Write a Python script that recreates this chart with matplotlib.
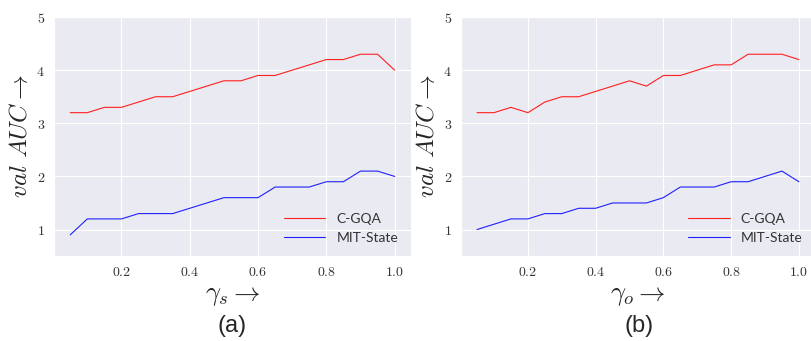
import matplotlib
matplotlib.use("Agg")
import matplotlib.pyplot as plt
import seaborn as sns

sns.set_style("darkgrid")
plt.rcParams["mathtext.fontset"] = "cm"

gamma = [0.05, 0.10, 0.15, 0.20, 0.25, 0.30, 0.35, 0.40, 0.45, 0.50,
         0.55, 0.60, 0.65, 0.70, 0.75, 0.80, 0.85, 0.90, 0.95, 1.00]

# panel (a): sweep over gamma_s
cgqa_s = [3.2, 3.2, 3.3, 3.3, 3.4, 3.5, 3.5, 3.6, 3.7, 3.8,
          3.8, 3.9, 3.9, 4.0, 4.1, 4.2, 4.2, 4.3, 4.3, 4.0]
mit_s = [0.9, 1.2, 1.2, 1.2, 1.3, 1.3, 1.3, 1.4, 1.5, 1.6,
         1.6, 1.6, 1.8, 1.8, 1.8, 1.9, 1.9, 2.1, 2.1, 2.0]

# panel (b): sweep over gamma_o
cgqa_o = [3.2, 3.2, 3.3, 3.2, 3.4, 3.5, 3.5, 3.6, 3.7, 3.8,
          3.7, 3.9, 3.9, 4.0, 4.1, 4.1, 4.3, 4.3, 4.3, 4.2]
mit_o = [1.0, 1.1, 1.2, 1.2, 1.3, 1.3, 1.4, 1.4, 1.5, 1.5,
         1.5, 1.6, 1.8, 1.8, 1.8, 1.9, 1.9, 2.0, 2.1, 1.9]

xticks = [0.2, 0.4, 0.6, 0.8, 1.0]
xtick_labels = ["0.2", "0.4", "0.6", "0.8", "1.0"]
yticks = [1, 2, 3, 4, 5]
ytick_labels = ["1", "2", "3", "4", "5"]

series_names = ["C-GQA", "MIT-State"]
series_colors = ["#ff2020", "#2020ff"]

panels = [
    dict(rect=[0.0666, 0.249, 0.440, 0.701], ys=(cgqa_s, mit_s),
         xlabel=r"$\gamma_s \rightarrow$", tag="(a)"),
    dict(rect=[0.5684, 0.249, 0.4365, 0.701], ys=(cgqa_o, mit_o),
         xlabel=r"$\gamma_o \rightarrow$", tag="(b)"),
]

fig = plt.figure(figsize=(8.11, 3.41), dpi=100)
for p in panels:
    ax = fig.add_axes(p["rect"])
    for vals, name, col in zip(p["ys"], series_names, series_colors):
        ax.plot(gamma, vals, color=col, lw=0.8, label=name)
    ax.set_ylim(0.5, 5)
    ax.set_xticks(xticks, [f"${t}$" for t in xtick_labels])
    ax.set_yticks(yticks, [f"${t}$" for t in ytick_labels])
    ax.tick_params(axis="both", labelsize=10, pad=3, colors="#333333")
    ax.set_ylabel(r"$val\ AUC \rightarrow$", fontsize=18, labelpad=3)
    ax.set_xlabel(p["xlabel"], fontsize=19, labelpad=2)
    leg = ax.legend(loc="lower right", frameon=False,
                    prop=dict(family="Lato", size=10), handlelength=3.0)
    for t in leg.get_texts():
        t.set_color("#333333")
    r = p["rect"]
    fig.text(r[0] + 0.5 * 0.440, 0.045, p["tag"], ha="center",
             va="center", fontsize=17, family="Liberation Sans")

fig.savefig("out.png", dpi=100)
